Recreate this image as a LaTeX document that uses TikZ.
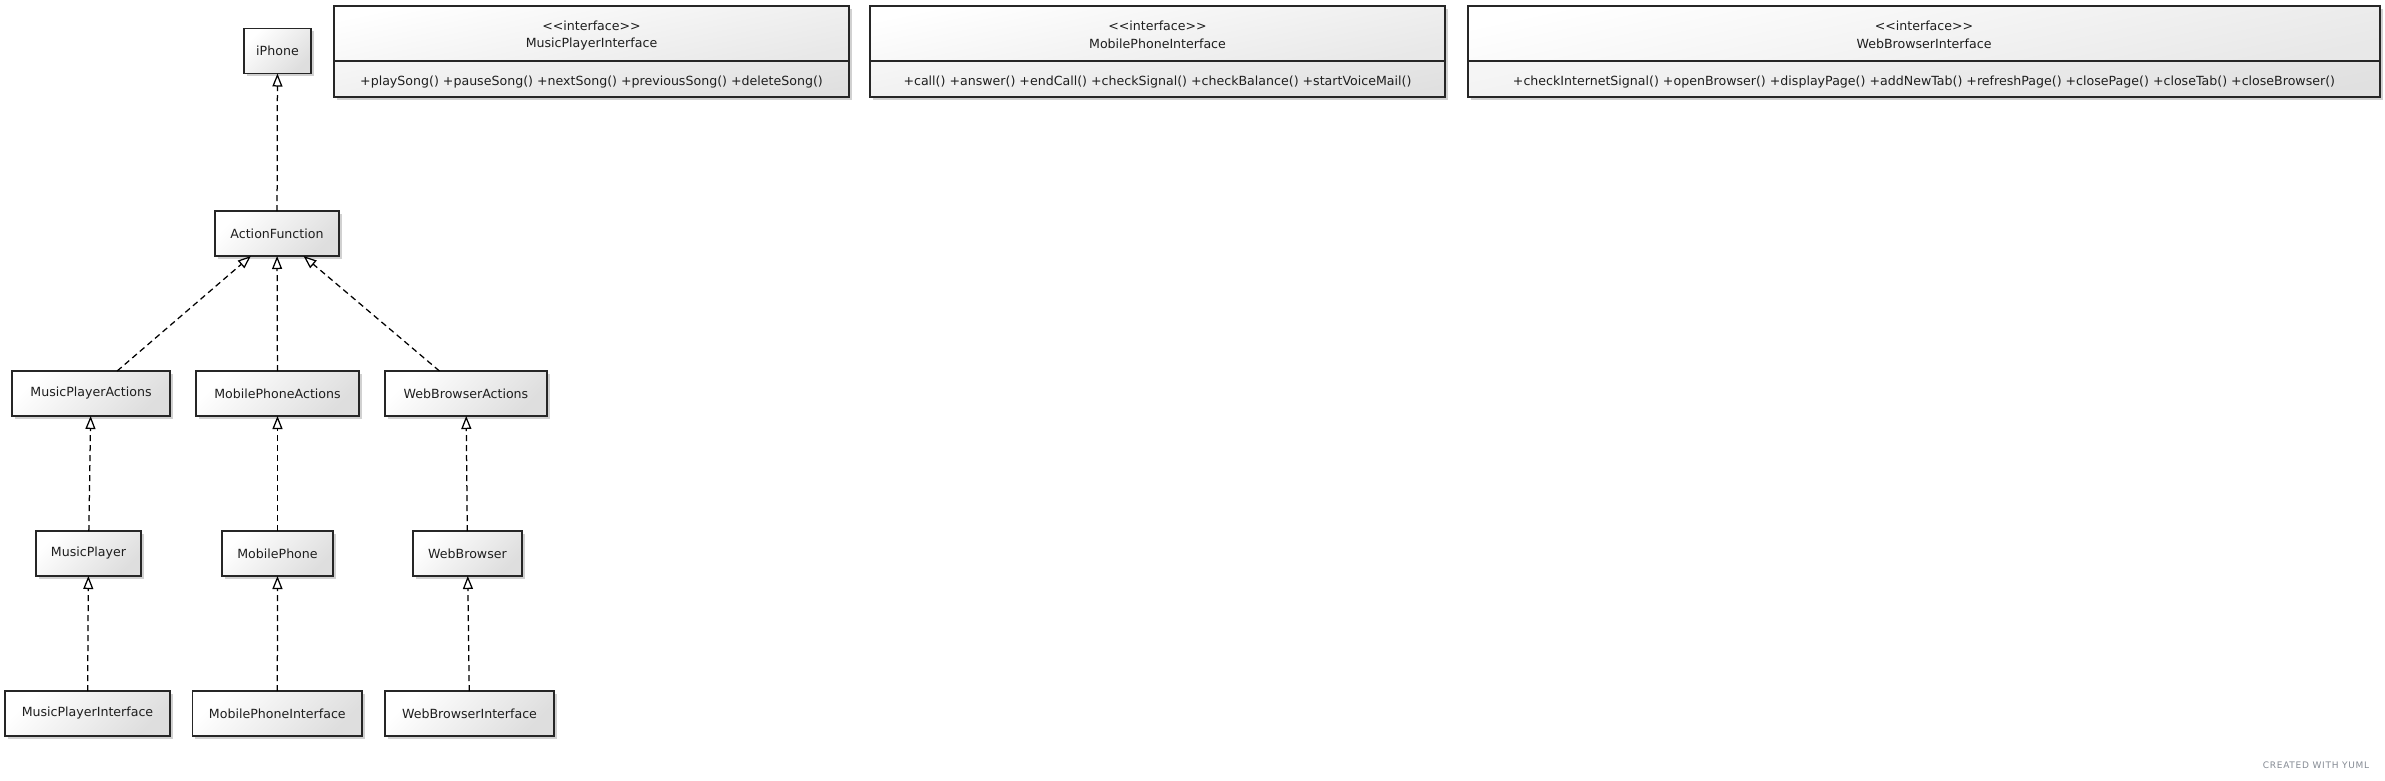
\documentclass[tikz,border=0pt]{standalone}
\usepackage{fontspec}
\setmainfont{DejaVu Sans}
\usetikzlibrary{arrows.meta,shadows}
\definecolor{txtc}{HTML}{1E1E1E}
\definecolor{markc}{HTML}{858B94}
\begin{document}
\begin{tikzpicture}[x=1pt,y=-1pt,
  boxbase/.style={draw=black!85, line width=1.25pt, rectangle, inner sep=0pt, outer sep=0pt,
    drop shadow={shadow xshift=2.5pt,shadow yshift=-2.5pt,fill=black,opacity=0.18}},
  cls/.style={boxbase, top color=white, bottom color=black!13, shading angle=45,
    minimum height=45pt, font=\fontsize{12.6}{14}\selectfont, text=txtc},
  ifchead/.style={boxbase, top color=white, bottom color=black!9, shading angle=12, minimum height=55pt},
  ifcbody/.style={boxbase, top color=black!4, bottom color=black!12, shading angle=12, minimum height=36pt},
  txt/.style={inner sep=0pt, font=\fontsize{12.6}{14}\selectfont, text=txtc},
  real/.style={draw=black, line width=1.25pt, dash pattern=on 6pt off 4pt,
    -{Triangle[length=13pt,width=10pt,fill=white,line width=1.25pt]}}
]
\fill[white] (0,0) rectangle (2385,780);
\useasboundingbox (0,0) rectangle (2385,780);

% class nodes
\node[cls, minimum width=67pt]  (iph) at (277.5,51)   {iPhone};
\node[cls, minimum width=124pt] (af)  at (277,233.5)  {ActionFunction};
\node[cls, minimum width=158pt] (mpa) at (91,393.5)   {MusicPlayerActions};
\node[cls, minimum width=163pt] (moa) at (277.5,393.5){MobilePhoneActions};
\node[cls, minimum width=162pt] (wba) at (466,393.5)  {WebBrowserActions};
\node[cls, minimum width=105pt] (mp)  at (88.5,553.5) {MusicPlayer};
\node[cls, minimum width=111pt] (mo)  at (277.5,553.5){MobilePhone};
\node[cls, minimum width=109pt] (wb)  at (467.5,553.5){WebBrowser};
\node[cls, minimum width=165pt] (mpi) at (87.5,713.5) {MusicPlayerInterface};
\node[cls, minimum width=169.5pt] (moi) at (277.3,713.5){MobilePhoneInterface};
\node[cls, minimum width=169pt] (wbi) at (469.5,713.5){WebBrowserInterface};

% connectors
\draw[real] (af) -- (iph);
\draw[real] (mpa) -- (af);
\draw[real] (moa) -- (af);
\draw[real] (wba) -- (af);
\draw[real] (mp) -- (mpa);
\draw[real] (mo) -- (moa);
\draw[real] (wb) -- (wba);
\draw[real] (mpi) -- (mp);
\draw[real] (moi) -- (mo);
\draw[real] (wbi) -- (wb);

% interface boxes: header and body compartments
\node[ifchead, minimum width=515pt] (mpih) at (591.5,33.5) {};
\node[ifcbody, minimum width=515pt] (mpib) at (591.5,79) {};
\node[ifchead, minimum width=575pt] (moih) at (1157.5,33.5) {};
\node[ifcbody, minimum width=575pt] (moib) at (1157.5,79) {};
\node[ifchead, minimum width=912pt] (wbih) at (1924,33.5) {};
\node[ifcbody, minimum width=912pt] (wbib) at (1924,79) {};

\node[txt] (mpis) at (591.5,25.5) {<\kern0pt<interface>\kern0pt>};
\node[txt] (mpin) at (591.5,44) {MusicPlayerInterface};
\node[txt] (mpim) at (591.5,82) {+playSong() +pauseSong() +nextSong() +previousSong() +deleteSong()};

\node[txt] (mois) at (1157.5,25.5) {<\kern0pt<interface>\kern0pt>};
\node[txt] (moin) at (1157.5,44) {MobilePhoneInterface};
\node[txt] (moim) at (1157.5,82) {+call() +answer() +endCall() +checkSignal() +checkBalance() +startVoiceMail()};

\node[txt] (wbis) at (1924,25.5) {<\kern0pt<interface>\kern0pt>};
\node[txt] (wbin) at (1924,44) {WebBrowserInterface};
\node[txt] (wbim) at (1924,82) {+checkInternetSignal() +openBrowser() +displayPage() +addNewTab() +refreshPage() +closePage() +closeTab() +closeBrowser()};

\node[inner sep=0pt, text=markc, font=\fontsize{9}{10}\selectfont\addfontfeature{LetterSpace=8}] (mark) at (2316,765) {CREATED WITH YUML};
\end{tikzpicture}
\end{document}
